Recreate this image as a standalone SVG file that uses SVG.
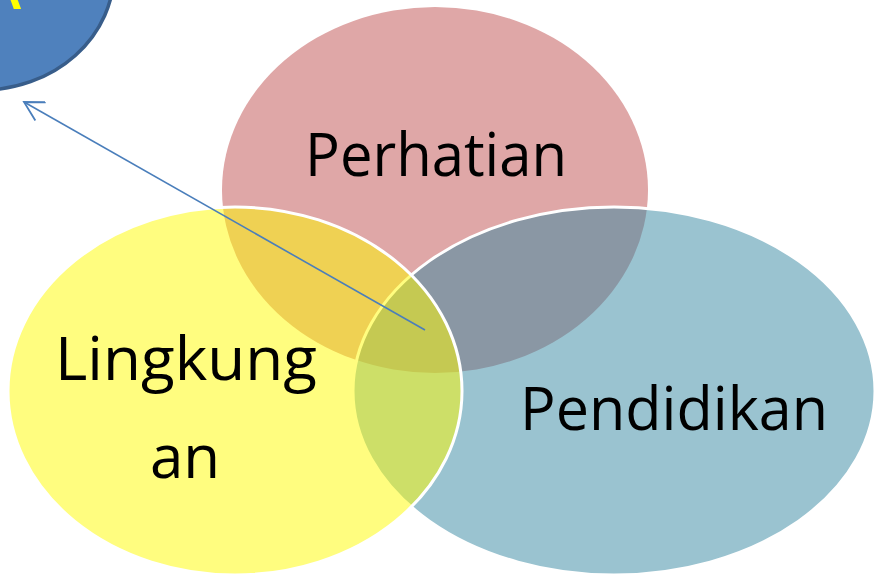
<svg xmlns="http://www.w3.org/2000/svg" width="875" height="579" viewBox="0 0 875 579">
  <style>
    .lbl { font-family: "Open Sans", "Noto Sans", "DejaVu Sans", sans-serif; font-size: 60px; fill: #000000; text-anchor: middle; }
    .conn { fill: none; stroke: #4A7EBB; stroke-width: 1.6; }
  </style>
  <defs>
    <marker id="openArrow" viewBox="0 0 22 22" refX="20" refY="11" markerWidth="22" markerHeight="22" markerUnits="userSpaceOnUse" orient="auto">
      <path d="M1,0.5 L20,11 L1,21.5" fill="none" stroke="#4A7EBB" stroke-width="1.8"/>
    </marker>
  </defs>
  <rect width="875" height="579" fill="#FFFFFF"/>

  <g id="node-top-left">
    <ellipse cx="-18" cy="-28" rx="132" ry="118" fill="#4F81BD" stroke="#385D8A" stroke-width="3.5"/>
    <text x="21" y="9" font-family="Open Sans, sans-serif" font-size="58" font-weight="600" fill="#FFFF00" text-anchor="end">A</text>
  </g>

  <g id="node-perhatian">
    <ellipse cx="435" cy="190" rx="213" ry="183" fill="#DFA7A7"/>
    <text class="lbl" x="436" y="176" textLength="262" lengthAdjust="spacingAndGlyphs">Perhatian</text>
  </g>

  <g id="node-pendidikan">
    <ellipse cx="614" cy="391" rx="261" ry="184" fill="#3587A1" fill-opacity="0.5" stroke="#FFFFFF" stroke-width="3"/>
    <text class="lbl" x="674" y="430" textLength="308" lengthAdjust="spacingAndGlyphs">Pendidikan</text>
  </g>

  <g id="node-lingkungan">
    <ellipse cx="235" cy="391" rx="227" ry="184" fill="#FFFB00" fill-opacity="0.5" stroke="#FFFFFF" stroke-width="3"/>
    <text class="lbl" x="186" y="380" textLength="262" lengthAdjust="spacingAndGlyphs">Lingkung</text>
    <text class="lbl" x="185" y="478">an</text>
  </g>

  <g id="connectors">
    <line class="conn" x1="425" y1="330" x2="24" y2="102" marker-end="url(#openArrow)"/>
  </g>
</svg>
